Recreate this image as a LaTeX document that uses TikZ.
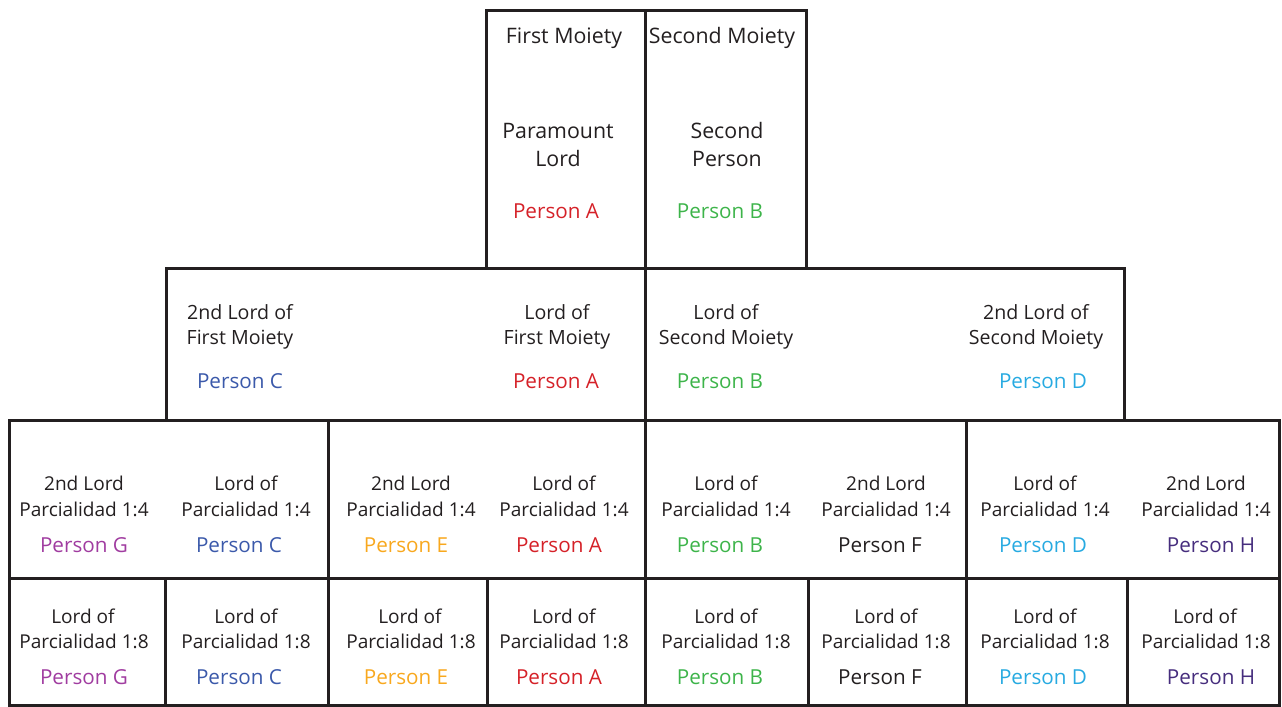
\documentclass[tikz,border=0pt]{standalone}
\usepackage{fontspec}
\setmainfont{Open Sans}
\definecolor{ink}{RGB}{35,31,32}
\definecolor{pA}{RGB}{213,33,40}
\definecolor{pB}{RGB}{61,180,74}
\definecolor{pC}{RGB}{59,89,170}
\definecolor{pD}{RGB}{39,170,225}
\definecolor{pE}{RGB}{248,168,30}
\definecolor{pF}{RGB}{35,31,32}
\definecolor{pG}{RGB}{160,60,160}
\definecolor{pH}{RGB}{70,45,125}
\tikzset{
  grid/.style={draw=ink, line width=2.25pt, line cap=rect, line join=miter},
  lbl/.style={anchor=base, inner sep=0pt, text=ink, font=\fontsize{14.3}{17}\selectfont},
  lbltop/.style={lbl, font=\fontsize{16}{19}\selectfont},
  lblmid/.style={lbl, font=\fontsize{14.7}{18}\selectfont},
  who/.style={lbl, font=\fontsize{15.5}{18}\selectfont},
}
\begin{document}
\begin{tikzpicture}[x=0.75pt, y=-0.75pt]
\useasboundingbox (0,0) rectangle (1282,707);
% frames
\draw[grid] (486,10) rectangle (806,268);
\draw[grid] (645,10) -- (645,268);
\draw[grid] (166,268) rectangle (1124,420);
\draw[grid] (645,268) -- (645,420);
\draw[grid] (9,420) rectangle (1279,578);
\foreach \xx in {328,645,966} \draw[grid] (\xx,420) -- (\xx,578);
\draw[grid] (9,578) rectangle (1279,705);
\foreach \xx in {165,328,487,645,808,966,1127} \draw[grid] (\xx,578) -- (\xx,705);
% top row
\node[lbltop] (m1) at (564,43) {First Moiety};
\node[lbltop] (m2) at (722,43) {Second Moiety};
\node[lbltop] (pl1) at (558,138) {Paramount};
\node[lbltop] (pl2) at (558,166) {Lord};
\node[who, text=pA] (plp) at (556,218) {Person A};
\node[lbltop] (sp1) at (727,138) {Second};
\node[lbltop] (sp2) at (727,166) {Person};
\node[who, text=pB] (spp) at (720,218) {Person B};
% second row
\node[lblmid] (r2a1) at (240,319) {2nd Lord of};
\node[lblmid] (r2a2) at (240,344) {First Moiety};
\node[who, text=pC] (r2ap) at (240,388) {Person C};
\node[lblmid] (r2b1) at (557,319) {Lord of};
\node[lblmid] (r2b2) at (557,344) {First Moiety};
\node[who, text=pA] (r2bp) at (556,388) {Person A};
\node[lblmid] (r2c1) at (726,319) {Lord of};
\node[lblmid] (r2c2) at (726,344) {Second Moiety};
\node[who, text=pB] (r2cp) at (720,388) {Person B};
\node[lblmid] (r2d1) at (1036,319) {2nd Lord of};
\node[lblmid] (r2d2) at (1036,344) {Second Moiety};
\node[who, text=pD] (r2dp) at (1043,388) {Person D};
% third row
\node[lbl] (r3g1) at (84,490) {2nd Lord};
\node[lbl] (r3g2) at (84,516) {Parcialidad 1:4};
\node[who, text=pG] (r3gp) at (84,552) {Person G};
\node[lbl] (r3c1) at (246,490) {Lord of};
\node[lbl] (r3c2) at (246,516) {Parcialidad 1:4};
\node[who, text=pC] (r3cp) at (239,552) {Person C};
\node[lbl] (r3e1) at (411,490) {2nd Lord};
\node[lbl] (r3e2) at (411,516) {Parcialidad 1:4};
\node[who, text=pE] (r3ep) at (406,552) {Person E};
\node[lbl] (r3a1) at (564,490) {Lord of};
\node[lbl] (r3a2) at (564,516) {Parcialidad 1:4};
\node[who, text=pA] (r3ap) at (559,552) {Person A};
\node[lbl] (r3b1) at (726,490) {Lord of};
\node[lbl] (r3b2) at (726,516) {Parcialidad 1:4};
\node[who, text=pB] (r3bp) at (720,552) {Person B};
\node[lbl] (r3f1) at (886,490) {2nd Lord};
\node[lbl] (r3f2) at (886,516) {Parcialidad 1:4};
\node[who, text=pF] (r3fp) at (880,552) {Person F};
\node[lbl] (r3d1) at (1045,490) {Lord of};
\node[lbl] (r3d2) at (1045,516) {Parcialidad 1:4};
\node[who, text=pD] (r3dp) at (1043,552) {Person D};
\node[lbl] (r3h1) at (1206,490) {2nd Lord};
\node[lbl] (r3h2) at (1206,516) {Parcialidad 1:4};
\node[who, text=pH] (r3hp) at (1211,552) {Person H};
% fourth row
\node[lbl] (r4g1) at (83,623) {Lord of};
\node[lbl] (r4g2) at (84,648) {Parcialidad 1:8};
\node[who, text=pG] (r4gp) at (84,684) {Person G};
\node[lbl] (r4c1) at (246,623) {Lord of};
\node[lbl] (r4c2) at (246,648) {Parcialidad 1:8};
\node[who, text=pC] (r4cp) at (239,684) {Person C};
\node[lbl] (r4e1) at (410,623) {Lord of};
\node[lbl] (r4e2) at (411,648) {Parcialidad 1:8};
\node[who, text=pE] (r4ep) at (406,684) {Person E};
\node[lbl] (r4a1) at (564,623) {Lord of};
\node[lbl] (r4a2) at (564,648) {Parcialidad 1:8};
\node[who, text=pA] (r4ap) at (559,684) {Person A};
\node[lbl] (r4b1) at (726,623) {Lord of};
\node[lbl] (r4b2) at (726,648) {Parcialidad 1:8};
\node[who, text=pB] (r4bp) at (720,684) {Person B};
\node[lbl] (r4f1) at (886,623) {Lord of};
\node[lbl] (r4f2) at (886,648) {Parcialidad 1:8};
\node[who, text=pF] (r4fp) at (880,684) {Person F};
\node[lbl] (r4d1) at (1045,623) {Lord of};
\node[lbl] (r4d2) at (1045,648) {Parcialidad 1:8};
\node[who, text=pD] (r4dp) at (1043,684) {Person D};
\node[lbl] (r4h1) at (1205,623) {Lord of};
\node[lbl] (r4h2) at (1206,648) {Parcialidad 1:8};
\node[who, text=pH] (r4hp) at (1211,684) {Person H};
\end{tikzpicture}
\end{document}
